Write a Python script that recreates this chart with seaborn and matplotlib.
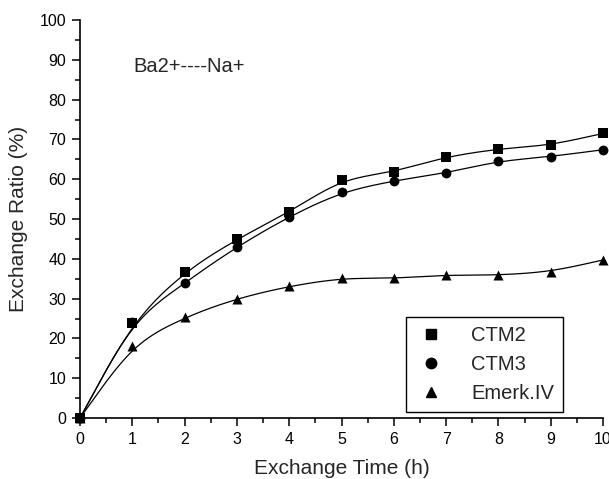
import numpy as np
import pandas as pd
import matplotlib
matplotlib.use("Agg")
import matplotlib.pyplot as plt
import seaborn as sns
from matplotlib.ticker import MultipleLocator

time_h = [0, 1, 2, 3, 4, 5, 6, 7, 8, 9, 10]
ctm2 = [0, 23.9, 36.7, 44.9, 51.8, 59.8, 61.9, 65.6, 67.6, 68.6, 71.5]
ctm3 = [0, 24.0, 34.0, 43.0, 50.6, 56.7, 59.6, 61.6, 64.5, 65.7, 67.4]
emerk = [0, 18.2, 25.3, 30.0, 33.1, 35.1, 35.1, 35.9, 35.9, 36.8, 39.7]
series_names = ["CTM2", "CTM3", "Emerk.IV"]
annotation = "Ba2+----Na+"

sns.set_theme(style="ticks")
plt.rcParams["font.family"] = ["Liberation Sans", "DejaVu Sans"]


def smooth_curve(x, y, n=40, w=0.75):
    """Cubic spline blending a B-spline (smoothing) and Catmull-Rom (interpolating)."""
    P = np.column_stack([x, y]).astype(float)
    Q = np.vstack([2 * P[0] - P[1], P, 2 * P[-1] - P[-2]])
    Mb = np.array([[-1, 3, -3, 1], [3, -6, 3, 0], [-3, 0, 3, 0], [1, 4, 1, 0]]) / 6.0
    Mc = np.array([[-1, 3, -3, 1], [2, -5, 4, -1], [-1, 0, 1, 0], [0, 2, 0, 0]]) / 2.0
    M = w * Mb + (1 - w) * Mc
    t = np.linspace(0, 1, n)
    T = np.column_stack([t ** 3, t ** 2, t, np.ones_like(t)])
    pts = []
    for j in range(len(Q) - 3):
        seg = T @ M @ Q[j:j + 4]
        pts.append(seg if j == 0 else seg[1:])
    pts = np.vstack(pts)
    return pts[:, 0], pts[:, 1]


fig = plt.figure(figsize=(6.09, 4.79), dpi=100)
ax = fig.add_axes([80 / 609, 1 - 418 / 479, 523 / 609, 398 / 479])

markers = ["s", "o", "^"]
sizes = [42, 50, 52]
data = [ctm2, ctm3, emerk]
handles = []
for name, vals, m, s in zip(series_names, data, markers, sizes):
    cx, cy = smooth_curve(time_h, vals)
    curve = pd.DataFrame({"x": cx, "y": cy})
    sns.lineplot(data=curve, x="x", y="y", sort=False, estimator=None,
                 color="black", lw=0.9, ax=ax, legend=False)
    pts = pd.DataFrame({"x": time_h, "y": vals})
    sns.scatterplot(data=pts, x="x", y="y", marker=m, s=s, color="black",
                    edgecolor="black", linewidth=0, ax=ax, legend=False,
                    zorder=3, clip_on=False)
    handles.append(plt.Line2D([], [], ls="none", marker=m, color="black",
                              markersize=6.5 if m == "s" else 7.5, label=name))

ax.set_xlim(0, 10)
ax.set_ylim(0, 100)
ax.xaxis.set_major_locator(MultipleLocator(1))
ax.xaxis.set_minor_locator(MultipleLocator(0.5))
ax.yaxis.set_major_locator(MultipleLocator(10))
ax.yaxis.set_minor_locator(MultipleLocator(5))
ax.tick_params(which="major", direction="out", length=6, width=1.1,
               labelsize=11.5, colors="black", pad=4)
ax.tick_params(which="minor", direction="out", length=3.5, width=1.1, colors="black")
sns.despine(ax=ax)
for sp in ["left", "bottom"]:
    ax.spines[sp].set_linewidth(1.2)
    ax.spines[sp].set_color("black")

ax.set_xlabel("Exchange Time (h)", fontsize=15, labelpad=9)
ax.set_ylabel("Exchange Ratio (%)", fontsize=15, labelpad=8)

ax.text(133 / 609, 1 - 67 / 479, annotation, transform=fig.transFigure,
        fontsize=14.5, va="center", ha="left")

leg = ax.legend(handles=handles, loc="upper left",
                bbox_to_anchor=(406 / 609, 1 - 317 / 479),
                bbox_transform=fig.transFigure, fontsize=14.5, frameon=True,
                fancybox=False, edgecolor="black", framealpha=1,
                handletextpad=1.2, borderpad=0.45, labelspacing=0.5,
                handlelength=1.6, borderaxespad=0)
leg.get_frame().set_linewidth(1.0)

fig.savefig("out.png", dpi=100)
